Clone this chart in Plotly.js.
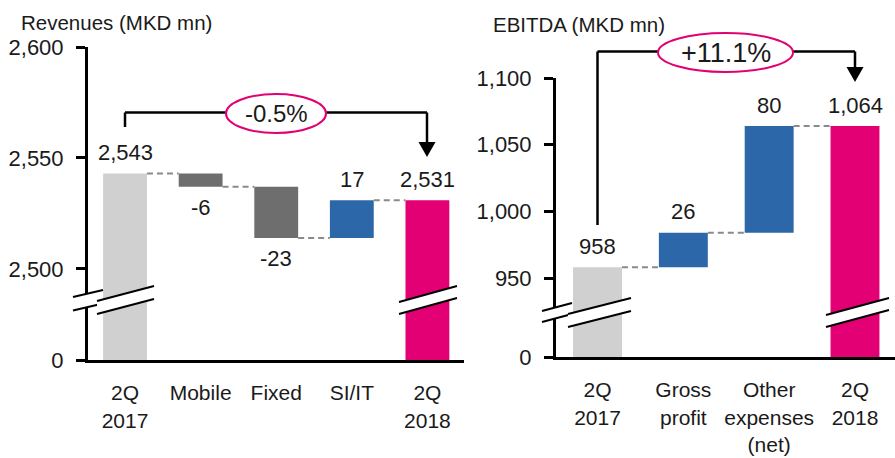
<!DOCTYPE html>
<html>
<head>
<meta charset="utf-8">
<script src="https://cdn.plot.ly/plotly-3.0.1.min.js"></script>
<style>
  html, body { margin: 0; padding: 0; background: #fff; }
  #chart { width: 895px; height: 458px; }
</style>
</head>
<body>
<div id="chart"></div>
<script>
const W = 895, H = 458;
const FONT = "Liberation Sans, Arial, sans-serif";
const INK = "#1a1a1a";

// Revenues (MKD mn)
const revCategories = ["2Q<br>2017", "Mobile", "Fixed", "SI/IT", "2Q<br>2018"];
const revValues = [2543, -6, -23, 17, 2531];
const revKinds = ["total", "delta", "delta", "delta", "total"];
const revColors = ["#d0d0d0", "#6e6e6e", "#6e6e6e", "#2b67a9", "#e20074"];
const revTicks = [0, 2500, 2550, 2600];
const revTickText = ["0", "2,500", "2,550", "2,600"];
const revChange = "-0.5%";

// EBITDA (MKD mn)
const ebCategories = ["2Q<br>2017", "Gross<br>profit", "Other<br>expenses<br>(net)", "2Q<br>2018"];
const ebValues = [958, 26, 80, 1064];
const ebKinds = ["total", "delta", "delta", "total"];
const ebColors = ["#d0d0d0", "#2b67a9", "#2b67a9", "#e20074"];
const ebTicks = [0, 950, 1000, 1050, 1100];
const ebTickText = ["0", "950", "1,000", "1,050", "1,100"];
const ebChange = "+11.1%";

// broken axis: 0 stays at 0, everything above the break is shifted down to sit just over the gap
function brokenScale(breakAt, gap) {
  return v => (v === 0 ? 0 : v - breakAt + gap);
}
const revScale = brokenScale(2500, 41);
const ebScale = brokenScale(950, 59.25);

function waterfall(values, kinds, scale) {
  let level = 0;
  const base = [], y = [], ends = [], levels = [];
  values.forEach((v, i) => {
    if (kinds[i] === "total") {
      base.push(0);
      y.push(scale(v));
      level = v;
      ends.push(scale(v));
    } else {
      base.push(scale(level));
      y.push(v);
      level += v;
      ends.push(scale(level));
    }
    levels.push(scale(level));
  });
  return { base, y, ends, levels };
}

const rev = waterfall(revValues, revKinds, revScale);
const eb = waterfall(ebValues, ebKinds, ebScale);

const revWidth = 0.58, ebWidth = 0.57;

const traces = [
  {
    type: "bar", x: revCategories, y: rev.y, base: rev.base, width: revWidth,
    marker: { color: revColors }, xaxis: "x", yaxis: "y", hoverinfo: "skip"
  },
  {
    type: "bar", x: ebCategories, y: eb.y, base: eb.base, width: ebWidth,
    marker: { color: ebColors }, xaxis: "x2", yaxis: "y2", hoverinfo: "skip"
  }
];

const px = x => x / W;
const py = y => 1 - y / H;

const shapes = [];
const annotations = [];

// dashed connectors between bars
function connectors(levels, width, xref, yref) {
  for (let i = 0; i < levels.length - 1; i++) {
    shapes.push({
      type: "line", xref, yref,
      x0: i + width / 2, x1: i + 1 - width / 2, y0: levels[i], y1: levels[i],
      line: { color: "#8a8a8a", width: 2, dash: "6px,4px" }
    });
  }
}
connectors(rev.levels, revWidth, "x", "y");
connectors(eb.levels, ebWidth, "x2", "y2");

// value labels
function valueLabels(values, ends, xref, yref) {
  values.forEach((v, i) => {
    annotations.push({
      xref, yref, x: i, y: ends[i], text: v.toLocaleString("en-US"),
      showarrow: false, yanchor: "middle", yshift: v > 0 ? 21 : -21,
      font: { family: FONT, size: 22, color: INK }
    });
  });
}
valueLabels(revValues, rev.ends, "x", "y");
valueLabels(ebValues, eb.ends, "x2", "y2");

// axis break marks
function breakMark(x0, y0, x1, y1, gap) {
  shapes.push({
    type: "path", xref: "paper", yref: "paper", layer: "above",
    path: `M ${px(x0)} ${py(y0)} L ${px(x1)} ${py(y1)} L ${px(x1)} ${py(y1 + gap)} L ${px(x0)} ${py(y0 + gap)} Z`,
    fillcolor: "#fff", line: { width: 0 }
  });
  [0, gap].forEach(d => shapes.push({
    type: "line", xref: "paper", yref: "paper", layer: "above",
    x0: px(x0), y0: py(y0 + d), x1: px(x1), y1: py(y1 + d),
    line: { color: "#000", width: 2 }
  }));
}
breakMark(73, 297, 103, 290, 13.5);
breakMark(97, 301, 154, 286, 13);
breakMark(399, 302, 457, 286, 12);
breakMark(542, 311, 572, 303, 11);
breakMark(568, 314, 631, 298, 13);
breakMark(826, 315, 889, 298, 12);

// change brackets with arrow and ellipse
function bracket(xa, xb, yTop, yStart, ellipse, arrowTip, label, size) {
  const ln = (x0, y0, x1, y1) => shapes.push({
    type: "line", xref: "paper", yref: "paper", layer: "above",
    x0: px(x0), y0: py(y0), x1: px(x1), y1: py(y1),
    line: { color: "#000", width: 2.5 }
  });
  ln(xa, yStart, xa, yTop);
  ln(xa, yTop, ellipse[0], yTop);
  ln(ellipse[1], yTop, xb, yTop);
  ln(xb, yTop, xb, arrowTip - 14);
  shapes.push({
    type: "path", xref: "paper", yref: "paper", layer: "above",
    path: `M ${px(xb - 8.5)} ${py(arrowTip - 15)} L ${px(xb + 8.5)} ${py(arrowTip - 15)} L ${px(xb)} ${py(arrowTip)} Z`,
    fillcolor: "#000", line: { width: 0 }
  });
  shapes.push({
    type: "circle", xref: "paper", yref: "paper", layer: "above",
    x0: px(ellipse[0]), x1: px(ellipse[1]), y0: py(ellipse[2]), y1: py(ellipse[3]),
    fillcolor: "#fff", line: { color: "#e20074", width: 2 }
  });
  annotations.push({
    xref: "paper", yref: "paper", x: px((ellipse[0] + ellipse[1]) / 2), y: py((ellipse[2] + ellipse[3]) / 2),
    text: label, showarrow: false, xanchor: "center", yanchor: "middle",
    font: { family: FONT, size, color: INK }
  });
}
bracket(125, 427, 112.5, 127, [226, 326, 94, 133], 157, revChange, 24);
bracket(597.5, 855, 51.5, 225, [658, 793, 33, 72], 82, ebChange, 27);

// panel titles
annotations.push({
  xref: "paper", yref: "paper", x: px(19), y: py(22), xanchor: "left", yanchor: "middle",
  text: "Revenues (MKD mn)", showarrow: false, font: { family: FONT, size: 20.5, color: INK }
});
annotations.push({
  xref: "paper", yref: "paper", x: px(491), y: py(24), xanchor: "left", yanchor: "middle",
  text: "EBITDA (MKD mn)", showarrow: false, font: { family: FONT, size: 20.5, color: INK }
});

const xCommon = {
  type: "category", showline: true, linewidth: 3, linecolor: "#000",
  ticks: "", showgrid: false, zeroline: false, fixedrange: true,
  tickfont: { family: FONT, size: 21, color: INK }, ticklabelstandoff: 12
};
const yCommon = {
  showline: true, linewidth: 3, linecolor: "#000", ticks: "outside", ticklen: 9, tickwidth: 3,
  tickcolor: "#000", showgrid: false, zeroline: false, fixedrange: true,
  tickfont: { family: FONT, size: 22, color: INK }, ticklabelstandoff: 8
};

const layout = {
  width: W, height: H,
  margin: { l: 0, r: 0, t: 0, b: 0 },
  paper_bgcolor: "#fff", plot_bgcolor: "#fff",
  showlegend: false,
  xaxis: Object.assign({}, xCommon, { domain: [px(88), px(464)], range: [-0.49, 4.484], anchor: "y" }),
  yaxis: Object.assign({}, yCommon, {
    domain: [py(360), py(47)], range: [0, revScale(2600)], anchor: "x",
    tickvals: revTicks.map(revScale), ticktext: revTickText
  }),
  xaxis2: Object.assign({}, xCommon, { domain: [px(556), 1], range: [-0.4835, 3.466], anchor: "y2" }),
  yaxis2: Object.assign({}, yCommon, {
    domain: [py(357), py(78)], range: [0, ebScale(1100)], anchor: "x2",
    tickvals: ebTicks.map(ebScale), ticktext: ebTickText
  }),
  shapes, annotations
};

Plotly.newPlot("chart", traces, layout, { displayModeBar: false, staticPlot: true });
</script>
</body>
</html>
